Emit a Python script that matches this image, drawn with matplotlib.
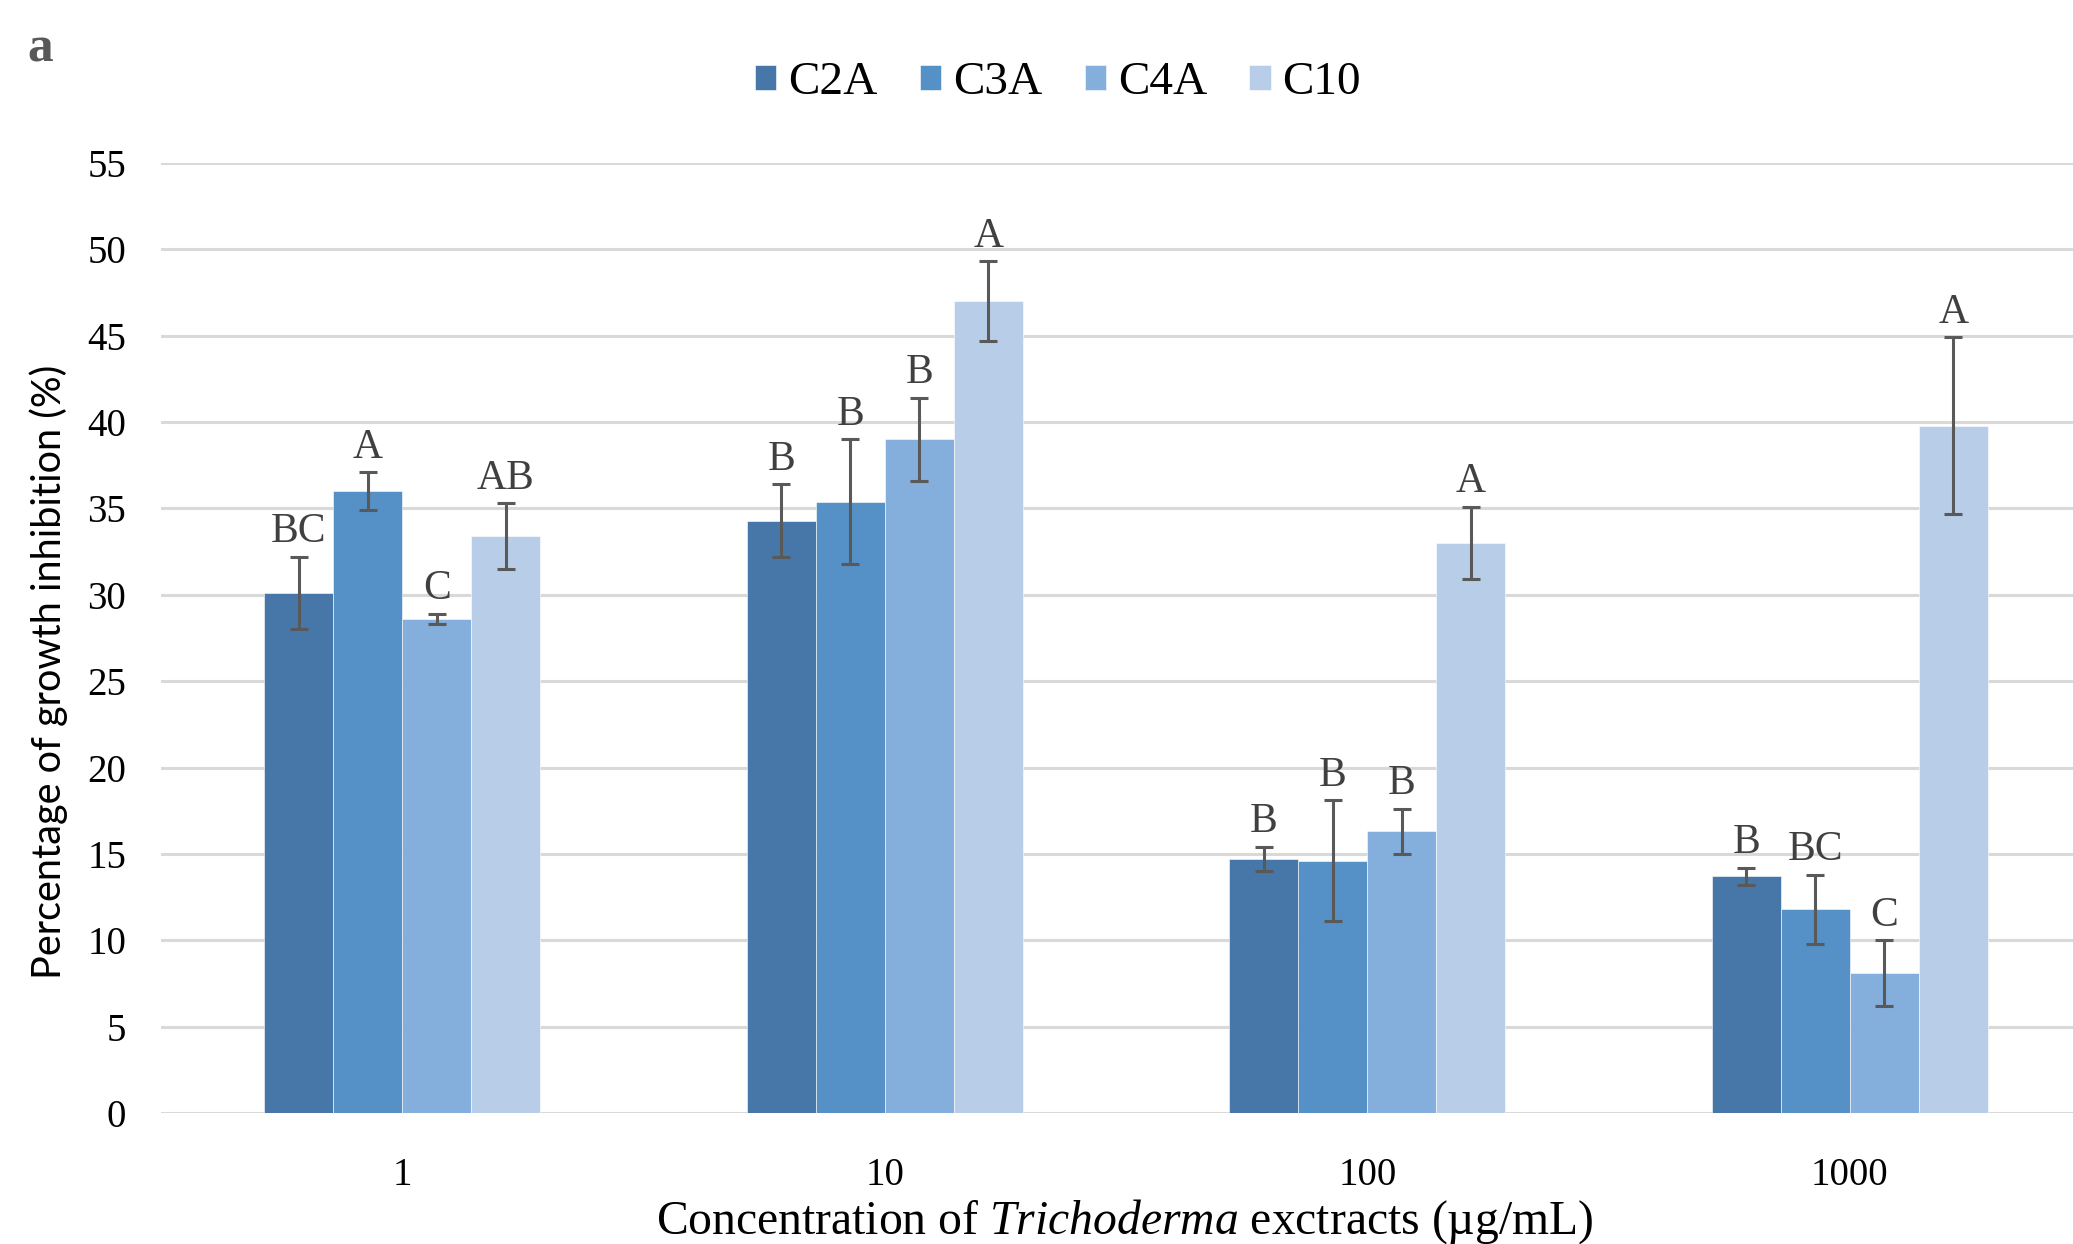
import numpy as np
import matplotlib.pyplot as plt

plt.rcParams["mathtext.fontset"] = "custom"
plt.rcParams["mathtext.rm"] = "Liberation Serif"
plt.rcParams["mathtext.it"] = "Liberation Serif:italic"

concentrations = ["1", "10", "100", "1000"]
series = ["C2A", "C3A", "C4A", "C10"]
colors = ["#4677A8", "#5590C7", "#84AEDB", "#B8CDE8"]

c2a = [30.1, 34.3, 14.7, 13.7]
c3a = [36.0, 35.4, 14.6, 11.8]
c4a = [28.6, 39.0, 16.3, 8.1]
c10 = [33.4, 47.0, 33.0, 39.8]

c2a_err = [2.1, 2.1, 0.7, 0.5]
c3a_err = [1.1, 3.6, 3.5, 2.0]
c4a_err = [0.3, 2.4, 1.3, 1.9]
c10_err = [1.9, 2.3, 2.1, 5.1]

c2a_letters = ["BC", "B", "B", "B"]
c3a_letters = ["A", "B", "B", "BC"]
c4a_letters = ["C", "B", "B", "C"]
c10_letters = ["AB", "A", "A", "A"]

values = [c2a, c3a, c4a, c10]
errors = [c2a_err, c3a_err, c4a_err, c10_err]
letters = [c2a_letters, c3a_letters, c4a_letters, c10_letters]

W, H = 2073, 1244
fig = plt.figure(figsize=(W / 100, H / 100), dpi=100)
ax = fig.add_axes([161 / W, 1 - 1113 / H, 1930 / W, (1113 - 163) / H])

serif = "Liberation Serif"
x = np.arange(len(concentrations))
bw = 0.143

for i, name in enumerate(series):
    pos = x + (i - 1.5) * bw
    ax.bar(pos, values[i], bw, color=colors[i], label=name, zorder=2,
           edgecolor="white", linewidth=0.4)
    ax.errorbar(pos, values[i], yerr=errors[i], fmt="none", ecolor="#595959",
                elinewidth=2.2, capsize=6.5, capthick=2.2, zorder=3)
    for p, v, e, t in zip(pos, values[i], errors[i], letters[i]):
        ax.annotate(t, (p, v + e), xytext=(0, 4), textcoords="offset points",
                    ha="center", va="bottom", fontsize=30, family=serif,
                    color="#404040")

ax.set_xlim(-0.5, 3.5)
ax.set_ylim(0, 55)
ax.set_yticks(range(0, 56, 5))
ax.set_xticks(x)
ax.set_xticklabels(concentrations)
ax.yaxis.grid(True, color="#D9D9D9", linewidth=2.2, zorder=0)
ax.set_axisbelow(True)
for s in ax.spines.values():
    s.set_visible(False)
ax.tick_params(axis="both", length=0, labelsize=28)
ax.tick_params(axis="y", pad=25)
ax.tick_params(axis="x", pad=32)
for lab in ax.get_xticklabels() + ax.get_yticklabels():
    lab.set_family(serif)

fig.text(1125 / W, 1 - 1222 / H, "Concentration of $\\it{Trichoderma}$ exctracts (µg/mL)",
         ha="center", va="center", fontsize=34.3, family=serif)
fig.text(49 / W, 1 - 672 / H, "Percentage of growth inhibition (%)", rotation=90,
         ha="center", va="center", fontsize=28.5, family="Lato")
fig.text(27 / W, 1 - 50 / H, "a", fontsize=37, weight="bold", family=serif,
         color="#595959", va="center")

fig.legend(loc="center", bbox_to_anchor=(1058 / W, 1 - 83 / H), ncol=4,
           frameon=False, prop={"family": serif, "size": 34},
           handlelength=0.45, handleheight=0.45, handletextpad=0.25,
           columnspacing=0.9)

fig.savefig("out.png", dpi=100)
